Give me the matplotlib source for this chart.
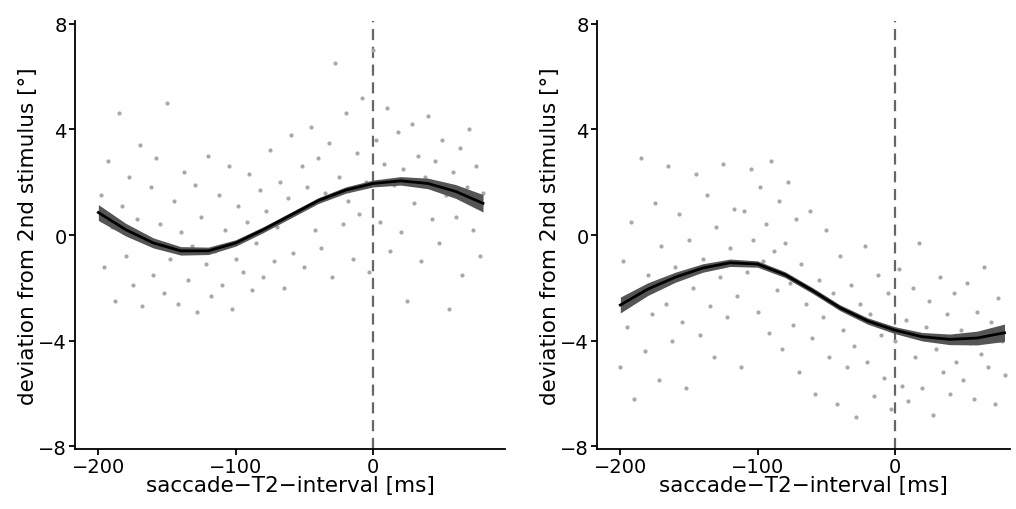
import numpy as np
import matplotlib.pyplot as plt

# fitted curve (every 20 ms)
fit_x = [-200, -180, -160, -140, -120, -100, -80, -60, -40, -20, 0, 20, 40, 60, 80]
fit_left = [0.85, 0.2, -0.3, -0.6, -0.6, -0.3, 0.2, 0.75, 1.3, 1.7, 1.95, 2.05, 1.95, 1.65, 1.2]
fit_right = [-2.65, -2.05, -1.6, -1.25, -1.05, -1.1, -1.5, -2.1, -2.75, -3.25, -3.6, -3.85, -3.95, -3.9, -3.7]
band = [0.3, 0.24, 0.19, 0.16, 0.14, 0.12, 0.11, 0.11, 0.11, 0.12, 0.13, 0.16, 0.2, 0.26, 0.33]

left_pts = [(-198,1.5),(-196,-1.2),(-193,2.8),(-190,0.3),(-188,-2.5),(-185,4.6),(-183,1.1),(-180,-0.8),(-178,2.2),(-175,-1.9),(-172,0.6),(-170,3.4),(-168,-2.7),(-165,-0.2),(-162,1.8),(-160,-1.5),(-158,2.9),(-155,0.4),(-152,-2.2),(-150,5.0),(-148,-0.9),(-145,1.3),(-142,-2.6),(-140,0.1),(-138,2.4),(-135,-1.7),(-132,-0.4),(-130,1.9),(-128,-2.9),(-125,0.7),(-122,-1.1),(-120,3.0),(-118,-2.3),(-115,-0.6),(-112,1.5),(-110,-1.9),(-108,0.2),(-105,2.6),(-103,-2.8),(-100,-0.9),(-98,1.1),(-95,-1.4),(-92,0.5),(-90,2.3),(-88,-2.1),(-85,-0.3),(-82,1.7),(-80,-1.6),(-78,0.9),(-75,3.2),(-72,-1.0),(-70,0.3),(-68,2.0),(-65,-2.0),(-62,1.4),(-60,3.8),(-58,-0.7),(-55,0.9),(-52,2.6),(-50,-1.2),(-48,1.8),(-45,4.1),(-42,0.2),(-40,2.9),(-38,-0.5),(-35,1.6),(-32,3.5),(-30,-1.6),(-28,6.5),(-25,2.2),(-22,0.4),(-20,4.6),(-18,1.3),(-15,-0.9),(-12,3.1),(-10,0.8),(-8,5.2),(-5,2.0),(-3,-1.4),(0,7.0),(2,3.6),(5,0.5),(8,2.7),(10,4.8),(12,-0.6),(15,1.9),(18,3.9),(20,0.1),(22,2.5),(25,-2.5),(28,4.2),(30,1.2),(33,3.0),(35,-1.0),(38,2.2),(40,4.5),(43,0.6),(45,2.8),(48,-0.3),(50,3.6),(53,1.5),(55,-2.8),(58,2.4),(60,0.7),(63,3.3),(65,-1.5),(68,1.8),(70,4.0),(73,0.2),(75,2.6),(78,-0.8),(80,1.6)]

right_pts = [(-200,-5.0),(-198,-1.0),(-195,-3.5),(-192,0.5),(-190,-6.2),(-187,-2.2),(-185,2.9),(-182,-4.4),(-180,-1.5),(-177,-3.0),(-175,1.2),(-172,-5.5),(-170,-0.4),(-167,-2.6),(-165,2.6),(-162,-4.0),(-160,-1.2),(-157,0.8),(-155,-3.3),(-152,-5.8),(-150,-0.2),(-147,-2.0),(-145,2.3),(-142,-3.8),(-140,-0.9),(-137,1.5),(-135,-2.7),(-132,-4.6),(-130,0.3),(-127,-1.6),(-125,2.7),(-122,-3.1),(-120,-0.5),(-117,1.0),(-115,-2.3),(-112,-5.0),(-110,0.9),(-108,-1.4),(-105,2.5),(-103,-0.2),(-100,-2.9),(-98,1.8),(-96,-1.0),(-94,0.4),(-92,-3.7),(-90,2.8),(-88,-0.6),(-86,-2.1),(-84,1.3),(-82,-4.3),(-80,-0.3),(-78,2.0),(-76,-1.8),(-74,-3.4),(-72,0.6),(-70,-5.2),(-68,-1.1),(-65,-2.6),(-62,0.9),(-60,-3.9),(-58,-6.0),(-55,-1.7),(-52,-3.1),(-50,0.2),(-48,-4.6),(-45,-2.2),(-42,-6.4),(-40,-0.8),(-38,-3.6),(-35,-5.0),(-32,-1.9),(-30,-4.2),(-28,-6.9),(-25,-2.6),(-22,-0.4),(-20,-4.8),(-18,-3.0),(-15,-6.1),(-12,-1.5),(-10,-3.8),(-8,-5.4),(-5,-2.2),(-3,-6.6),(0,-4.0),(3,-1.3),(5,-5.7),(8,-3.2),(10,-6.3),(13,-2.0),(15,-4.6),(18,-0.3),(20,-5.8),(23,-3.5),(25,-2.5),(28,-6.8),(30,-4.3),(33,-1.6),(35,-5.2),(38,-3.0),(40,-6.0),(43,-2.2),(45,-4.8),(48,-3.6),(50,-5.5),(53,-1.8),(55,-4.1),(58,-6.2),(60,-2.9),(63,-4.5),(65,-1.2),(68,-5.0),(70,-3.3),(73,-6.4),(75,-2.4),(78,-4.0),(80,-5.3)]

xticks = [-200, -100, 0]
yticks = [-8, -4, 0, 4, 8]

fig = plt.figure(figsize=(10.16, 5.1), dpi=100)
ax1 = fig.add_axes([75/1016, 60/510, 430/1016, 428/510])
ax2 = fig.add_axes([597/1016, 60/510, 413/1016, 428/510])

for ax, pts, fit, xmax in [(ax1, left_pts, fit_left, 96), (ax2, right_pts, fit_right, 84)]:
    px, py = zip(*pts)
    ax.scatter(px, py, s=9, color="#a8a8a8", linewidths=0, zorder=1)
    f = np.array(fit)
    b = np.array(band)
    ax.fill_between(fit_x, f - b, f + b, color="#555555", linewidth=0, zorder=2)
    ax.plot(fit_x, f, color="black", lw=2, zorder=3)
    ax.axvline(0, color="#666666", ls=(0, (5, 3)), lw=1.6, zorder=0)
    ax.set_xlim(-217, xmax)
    ax.set_ylim(-8.1, 8.1)
    ax.set_xticks(xticks)
    ax.set_xticklabels([str(t).replace("-", "\u2212") for t in xticks])
    ax.set_yticks(yticks)
    ax.set_yticklabels([str(t).replace("-", "\u2212") for t in yticks])
    for s in ["top", "right"]:
        ax.spines[s].set_visible(False)
    for s in ["left", "bottom"]:
        ax.spines[s].set_linewidth(1.3)
    ax.tick_params(labelsize=14, width=1.3, length=4, colors="black", pad=2)
    ax.set_xlabel("saccade\u2212T2\u2212interval [ms]", fontsize=15.5, labelpad=-1)
    ax.set_ylabel("deviation from 2nd stimulus [°]", fontsize=15.5, labelpad=0)

plt.savefig("out.png", dpi=100)
